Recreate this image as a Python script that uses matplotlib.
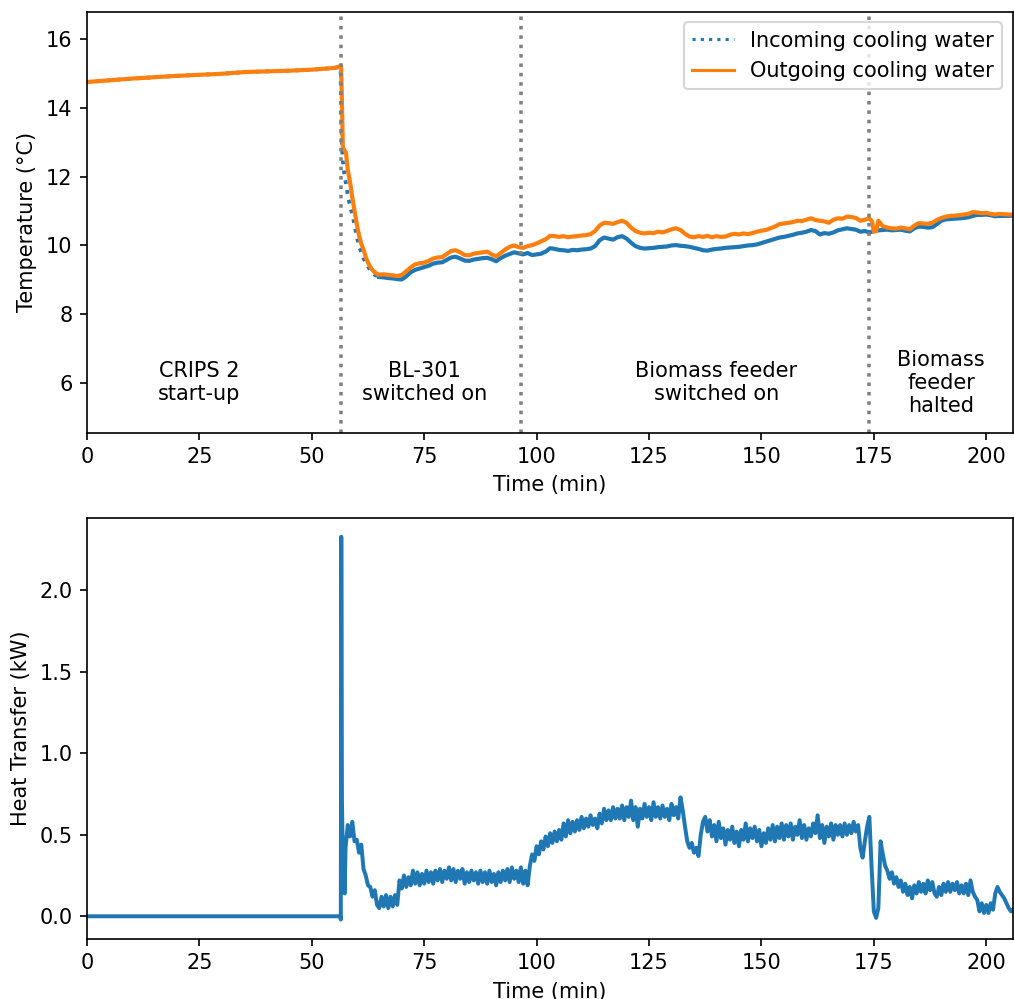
import numpy as np
import matplotlib
matplotlib.use("Agg")
import matplotlib.pyplot as plt
from matplotlib.lines import Line2D

# cooling water temperatures (deg C)
temp_time = [0, 5, 10, 15, 20, 25, 30, 35, 40, 45, 50, 55, 56.4,
             56.5, 56.7, 56.9, 57.2, 57.6, 58, 58.5, 59, 59.5, 60, 60.5, 61,
             61.5, 62, 62.5, 63, 63.5, 64, 64.5, 65] + \
            list(range(66, 175)) + [174.6, 175, 175.5] + list(range(176, 206)) + [205.9]

temp_out = [14.76, 14.81, 14.86, 14.90, 14.94, 14.97, 15.00, 15.05, 15.07, 15.09, 15.12, 15.17, 15.22,
            15.25, 14.20, 12.85, 12.78, 12.70, 12.20, 11.85, 11.40, 11.00, 10.62, 10.30, 10.05,
            9.88, 9.66, 9.50, 9.38, 9.28, 9.22, 9.17, 9.15,
            # 66 - 105
            9.16, 9.14, 9.13, 9.11, 9.14, 9.25, 9.36, 9.45, 9.48, 9.50,
            9.55, 9.62, 9.65, 9.66, 9.75, 9.84, 9.86, 9.80, 9.72, 9.71,
            9.76, 9.78, 9.80, 9.82, 9.74, 9.68, 9.78, 9.88, 9.96, 10.00,
            9.95, 9.93, 9.98, 10.01, 10.06, 10.12, 10.18, 10.28, 10.27, 10.25,
            # 106 - 145
            10.27, 10.24, 10.26, 10.27, 10.29, 10.30, 10.33, 10.42, 10.58, 10.66,
            10.65, 10.63, 10.68, 10.72, 10.66, 10.52, 10.42, 10.37, 10.35, 10.37,
            10.36, 10.40, 10.38, 10.42, 10.47, 10.50, 10.45, 10.34, 10.26, 10.24,
            10.27, 10.25, 10.28, 10.24, 10.27, 10.25, 10.26, 10.31, 10.34, 10.32,
            # 146 - 174
            10.35, 10.33, 10.36, 10.40, 10.43, 10.45, 10.50, 10.55, 10.62, 10.64,
            10.66, 10.68, 10.72, 10.71, 10.75, 10.79, 10.74, 10.72, 10.70, 10.66,
            10.75, 10.79, 10.78, 10.84, 10.83, 10.80, 10.72, 10.75, 10.79,
            # 174.6, 175, 175.5
            10.70, 10.40, 10.42,
            # 176 - 205
            10.72, 10.56, 10.52, 10.50, 10.49, 10.52, 10.50, 10.47, 10.58, 10.65,
            10.64, 10.63, 10.66, 10.74, 10.80, 10.84, 10.86, 10.87, 10.88, 10.90,
            10.92, 10.97, 10.96, 10.94, 10.95, 10.92, 10.90, 10.92, 10.91, 10.90,
            10.90]

temp_in = [14.76, 14.81, 14.86, 14.90, 14.94, 14.97, 15.00, 15.05, 15.07, 15.09, 15.12, 15.17, 15.20,
           13.80, 12.90, 12.45, 12.10, 11.80, 11.45, 11.15, 10.90, 10.60, 10.25, 9.98, 9.80,
           9.62, 9.50, 9.38, 9.28, 9.20, 9.14, 9.11, 9.08,
           # 66 - 105
           9.07, 9.05, 9.04, 9.02, 9.01, 9.10, 9.22, 9.29, 9.33, 9.37,
           9.41, 9.47, 9.50, 9.51, 9.58, 9.65, 9.67, 9.62, 9.56, 9.55,
           9.59, 9.61, 9.63, 9.64, 9.60, 9.54, 9.63, 9.70, 9.75, 9.80,
           9.77, 9.74, 9.78, 9.72, 9.74, 9.76, 9.82, 9.92, 9.90, 9.87,
           # 106 - 145
           9.86, 9.84, 9.87, 9.86, 9.88, 9.89, 9.91, 9.98, 10.15, 10.23,
           10.20, 10.17, 10.24, 10.27, 10.20, 10.08, 9.98, 9.93, 9.91, 9.92,
           9.93, 9.95, 9.96, 9.97, 10.00, 10.01, 9.99, 9.98, 9.96, 9.93,
           9.90, 9.86, 9.85, 9.88, 9.90, 9.91, 9.93, 9.94, 9.95, 9.96,
           # 146 - 174
           9.98, 10.00, 10.01, 10.03, 10.07, 10.11, 10.15, 10.19, 10.23, 10.25,
           10.28, 10.31, 10.35, 10.37, 10.40, 10.45, 10.42, 10.32, 10.36, 10.34,
           10.38, 10.44, 10.47, 10.50, 10.48, 10.46, 10.40, 10.42, 10.38,
           # 174.6, 175, 175.5
           10.40, 10.42, 10.43,
           # 176 - 205
           10.44, 10.45, 10.46, 10.44, 10.45, 10.46, 10.43, 10.41, 10.50, 10.55,
           10.54, 10.52, 10.53, 10.62, 10.72, 10.76, 10.77, 10.78, 10.79, 10.80,
           10.82, 10.86, 10.89, 10.89, 10.90, 10.88, 10.85, 10.86, 10.86, 10.86,
           10.87]

# heat transfer (kW), 0.5 min steps after the start-up transient
heat_time = [0, 56.3, 56.45, 56.55, 56.62, 56.7, 56.8, 57.0, 57.3, 57.5] + \
            list(np.arange(58.0, 206.0, 0.5)) + [205.9]
heat = [0.0, 0.0, -0.02, 2.33, 1.45, 0.72, 0.52, 0.40, 0.14, 0.42,
        # 58 - 67.5
        0.56, 0.49, 0.58, 0.46, 0.47, 0.39, 0.44, 0.29, 0.25, 0.19,
        0.18, 0.12, 0.16, 0.07, 0.05, 0.12, 0.06, 0.13, 0.05, 0.12,
        # 68 - 77.5
        0.06, 0.13, 0.07, 0.22, 0.17, 0.25, 0.18, 0.24, 0.19, 0.28,
        0.20, 0.27, 0.19, 0.26, 0.20, 0.28, 0.21, 0.27, 0.20, 0.28,
        # 78 - 87.5
        0.22, 0.29, 0.21, 0.28, 0.23, 0.30, 0.22, 0.29, 0.21, 0.28,
        0.23, 0.29, 0.20, 0.27, 0.21, 0.28, 0.22, 0.27, 0.20, 0.28,
        # 88 - 97.5
        0.21, 0.27, 0.20, 0.28, 0.21, 0.26, 0.19, 0.27, 0.21, 0.28,
        0.22, 0.29, 0.21, 0.30, 0.23, 0.28, 0.21, 0.30, 0.20, 0.28,
        # 98 - 107.5
        0.19, 0.31, 0.38, 0.34, 0.43, 0.38, 0.46, 0.41, 0.49, 0.43,
        0.51, 0.45, 0.52, 0.46, 0.53, 0.47, 0.57, 0.49, 0.59, 0.51,
        # 108 - 117.5
        0.58, 0.52, 0.59, 0.53, 0.61, 0.54, 0.60, 0.55, 0.62, 0.56,
        0.60, 0.54, 0.63, 0.57, 0.66, 0.59, 0.65, 0.59, 0.67, 0.60,
        # 118 - 127.5
        0.66, 0.60, 0.68, 0.59, 0.67, 0.61, 0.71, 0.59, 0.67, 0.55,
        0.66, 0.60, 0.69, 0.61, 0.67, 0.59, 0.70, 0.61, 0.67, 0.60,
        # 128 - 137.5
        0.68, 0.61, 0.66, 0.59, 0.69, 0.62, 0.67, 0.60, 0.73, 0.65,
        0.55, 0.46, 0.42, 0.45, 0.39, 0.42, 0.37, 0.50, 0.58, 0.61,
        # 138 - 147.5
        0.52, 0.59, 0.49, 0.56, 0.46, 0.58, 0.48, 0.54, 0.44, 0.53,
        0.47, 0.55, 0.45, 0.52, 0.43, 0.53, 0.47, 0.57, 0.46, 0.54,
        # 148 - 157.5
        0.48, 0.55, 0.46, 0.53, 0.43, 0.51, 0.45, 0.54, 0.47, 0.56,
        0.46, 0.55, 0.48, 0.57, 0.47, 0.56, 0.49, 0.57, 0.47, 0.55,
        # 158 - 167.5
        0.50, 0.59, 0.48, 0.56, 0.47, 0.54, 0.49, 0.57, 0.51, 0.62,
        0.48, 0.56, 0.45, 0.55, 0.49, 0.57, 0.47, 0.56, 0.50, 0.56,
        # 168 - 177.5
        0.49, 0.57, 0.50, 0.56, 0.51, 0.58, 0.52, 0.56, 0.42, 0.36,
        0.46, 0.55, 0.61, 0.30, 0.03, -0.01, 0.05, 0.46, 0.38, 0.31,
        # 178 - 187.5
        0.28, 0.23, 0.27, 0.20, 0.24, 0.18, 0.22, 0.15, 0.20, 0.13,
        0.18, 0.11, 0.19, 0.14, 0.21, 0.15, 0.20, 0.14, 0.22, 0.16,
        # 188 - 197.5
        0.21, 0.14, 0.12, 0.18, 0.13, 0.20, 0.15, 0.21, 0.15, 0.20,
        0.16, 0.21, 0.14, 0.19, 0.14, 0.20, 0.13, 0.22, 0.15, 0.12,
        # 198 - 205.5
        0.10, 0.03, 0.08, 0.02, 0.07, 0.02, 0.08, 0.04, 0.14, 0.18,
        0.15, 0.13, 0.11, 0.08, 0.05, 0.03,
        0.04]

events = [56.5, 96.5, 173.9]
phase_x = [25, 75, 140, 190]
phase_labels = ["CRIPS 2\nstart-up", "BL-301\nswitched on",
                "Biomass feeder\nswitched on", "Biomass\nfeeder\nhalted"]

fig = plt.figure(figsize=(6.76, 6.66), dpi=150)
ax1 = fig.add_axes([0.0858, 0.567, 0.913, 0.421])
ax2 = fig.add_axes([0.0858, 0.0604, 0.913, 0.4215])

# the incoming trace is dotted, but the dense noisy logging makes it look solid
k = temp_time.index(65)
ax1.plot(temp_time[:k + 1], temp_in[:k + 1], ':', color='C0', lw=1.8)
ax1.plot(temp_time[k:], temp_in[k:], '-', color='C0', lw=2)
ax1.plot(temp_time, temp_out, '-', color='C1', lw=2)
for ev in events:
    ax1.axvline(ev, color='grey', ls=':', lw=1.7)
for x, s in zip(phase_x, phase_labels):
    ax1.text(x, 6.0, s, ha='center', va='center')
ax1.set_xlim(0, 205.9)
ax1.set_ylim(4.55, 16.8)
ax1.set_xlabel('Time (min)')
ax1.set_ylabel('Temperature (°C)')
handles = [Line2D([], [], color='C0', ls=':', lw=1.5),
           Line2D([], [], color='C1', ls='-', lw=1.5)]
ax1.legend(handles, ['Incoming cooling water', 'Outgoing cooling water'],
           loc='upper right')

ax2.plot(heat_time, heat, color='C0', lw=1.9)
ax2.set_xlim(0, 205.9)
ax2.set_xlabel('Time (min)')
ax2.set_ylabel('Heat Transfer (kW)')

fig.savefig('out.png', dpi=150)
